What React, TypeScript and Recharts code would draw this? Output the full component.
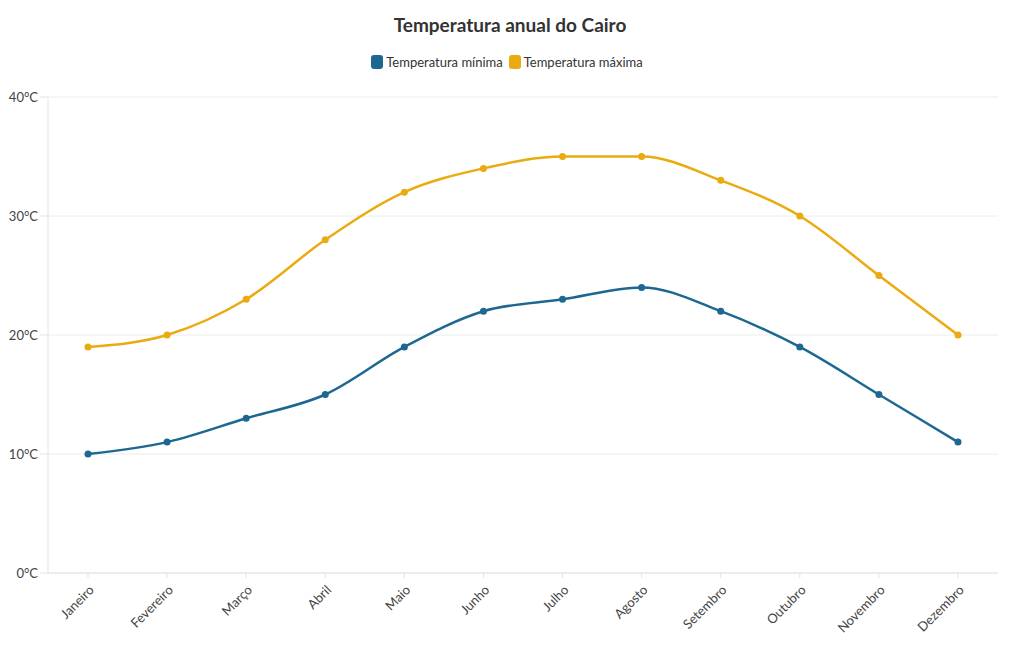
import { CartesianGrid, Line, LineChart, XAxis, YAxis } from "recharts"

// Temperaturas médias no Cairo (°C)
const meses = [
  "Janeiro",
  "Fevereiro",
  "Março",
  "Abril",
  "Maio",
  "Junho",
  "Julho",
  "Agosto",
  "Setembro",
  "Outubro",
  "Novembro",
  "Dezembro",
]
const minima = [10, 11, 13, 15, 19, 22, 23, 24, 22, 19, 15, 11]
const maxima = [19, 20, 23, 28, 32, 34, 35, 35, 33, 30, 25, 20]
const yTicks = [0, 10, 20, 30, 40]

const data = meses.map((mes, i) => ({ mes, minima: minima[i], maxima: maxima[i] }))

const FONT = "Lato, 'Open Sans', sans-serif"
const AZUL = "#1d6891"
const AMARELO = "#eaab10"

function MesTick(props: any) {
  const { x, y, payload } = props
  return (
    <g transform={`translate(${x + 4},${y + 8})`}>
      <text
        textAnchor="end"
        transform="rotate(-45)"
        fontSize={13}
        fill="#444"
        fontFamily={FONT}
        dy={4}
      >
        {payload.value}
      </text>
    </g>
  )
}

function LegendItem({ color, label }: { color: string; label: string }) {
  return (
    <span style={{ display: "inline-flex", alignItems: "center", marginRight: 6 }}>
      <span
        style={{
          display: "inline-block",
          width: 12,
          height: 14,
          borderRadius: 3,
          background: color,
          marginRight: 3,
        }}
      />
      {label}
    </span>
  )
}

export default function App() {
  return (
    <div style={{ position: "relative", width: 1020, height: 650, margin: -8, fontFamily: FONT, background: "#fff" }}>
      <div
        style={{
          position: "absolute",
          top: 13,
          left: 0,
          width: 1020,
          textAlign: "center",
          fontSize: 19,
          fontWeight: 700,
          color: "#333",
        }}
      >
        Temperatura anual do Cairo
      </div>
      <div
        style={{
          position: "absolute",
          top: 54,
          left: 0,
          width: 1020,
          display: "flex",
          justifyContent: "center",
          fontSize: 13,
          color: "#333",
        }}
      >
        <LegendItem color={AZUL} label="Temperatura mínima" />
        <LegendItem color={AMARELO} label="Temperatura máxima" />
      </div>
      <LineChart
        width={1020}
        height={650}
        data={data}
        margin={{ top: 97, right: 22, bottom: 17, left: 0 }}
        style={{ position: "absolute", top: 0, left: 0 }}
      >
        <CartesianGrid vertical={false} stroke="#ececec" />
        <XAxis
          dataKey="mes"
          height={60}
          stroke="#e3e3e3"
          tickSize={5}
          interval={0}
          tick={<MesTick />}
          padding={{ left: 40, right: 40 }}
        />
        <YAxis
          width={48}
          domain={[0, 40]}
          ticks={yTicks}
          stroke="#e3e3e3"
          tickSize={8}
          tickMargin={2}
          tickFormatter={(v) => `${v}°C`}
          tick={{ fontSize: 13, fill: "#444", fontFamily: FONT }}
        />
        <Line
          type="monotone"
          dataKey="maxima"
          stroke={AMARELO}
          strokeWidth={2.5}
          dot={{ r: 3.5, fill: AMARELO, stroke: AMARELO, strokeWidth: 0 }}
          isAnimationActive={false}
        />
        <Line
          type="monotone"
          dataKey="minima"
          stroke={AZUL}
          strokeWidth={2.5}
          dot={{ r: 3.5, fill: AZUL, stroke: AZUL, strokeWidth: 0 }}
          isAnimationActive={false}
        />
      </LineChart>
    </div>
  )
}
